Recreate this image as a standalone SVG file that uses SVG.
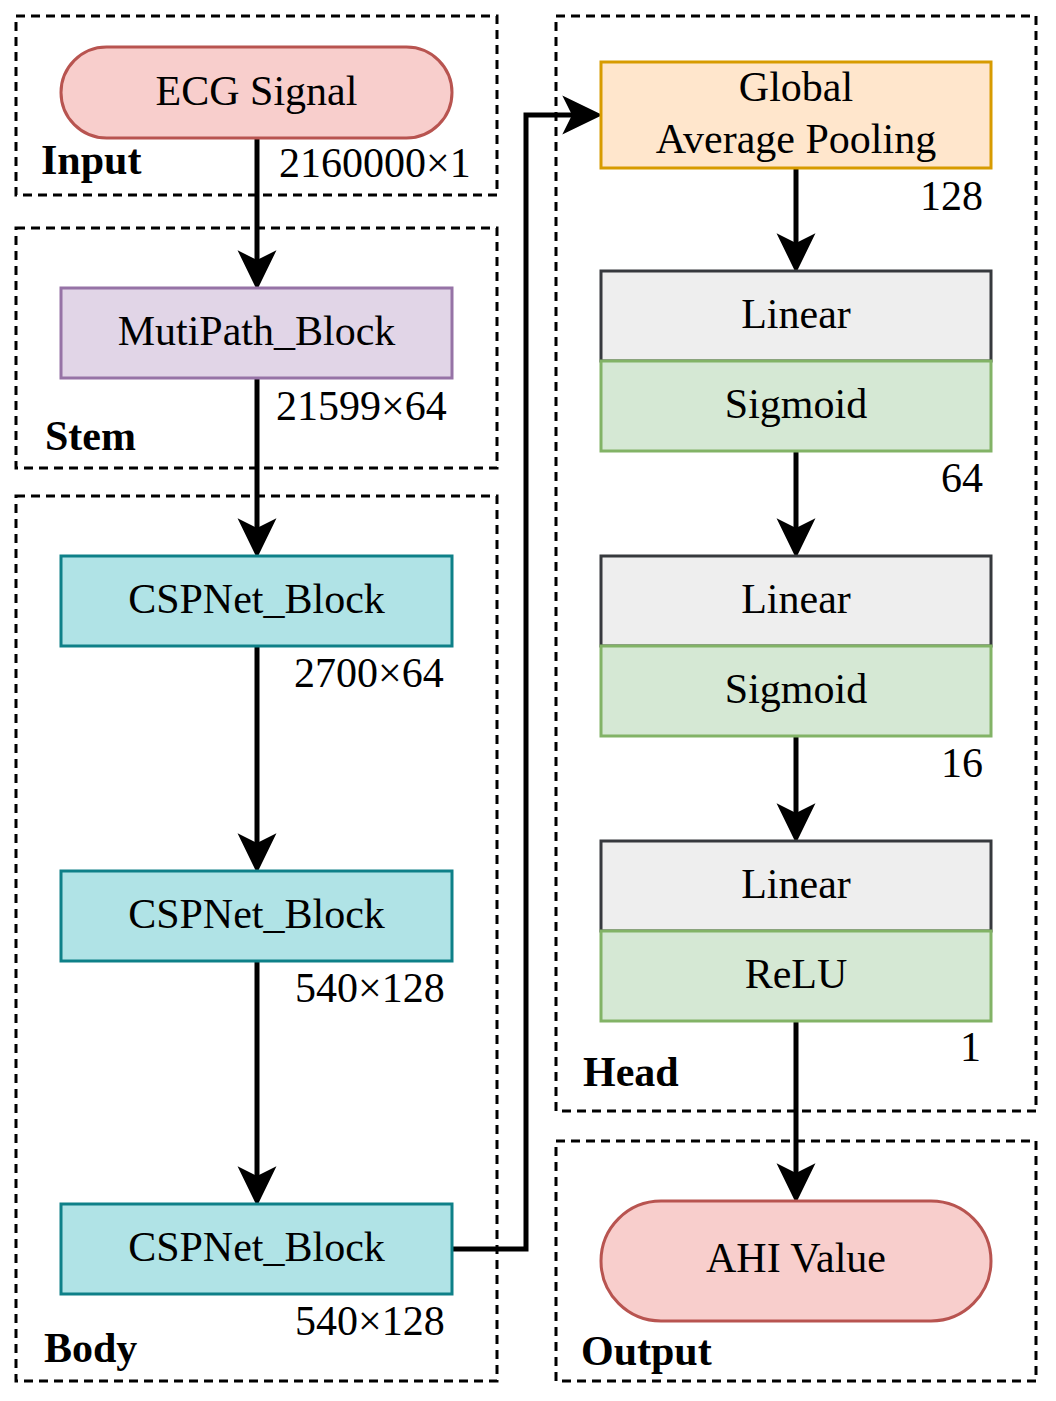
<svg xmlns="http://www.w3.org/2000/svg" width="1056" height="1401" viewBox="0 0 1056 1401">
<style>
.grp{fill:none;stroke:#000;stroke-width:3;stroke-dasharray:9 6}
.t{font-family:"Liberation Serif","Times New Roman",serif;font-size:42px;fill:#000}
.c{text-anchor:middle}
.e{text-anchor:end}
.b{font-weight:bold}
.con{fill:none;stroke:#000;stroke-width:5}
.term{fill:#f8cecc;stroke:#b85450;stroke-width:3}
.purple{fill:#e1d5e7;stroke:#9673a6;stroke-width:3}
.cyan{fill:#b0e3e6;stroke:#0e8088;stroke-width:3}
.orange{fill:#ffe6cc;stroke:#d79b00;stroke-width:3}
.gray{fill:#eeeeee;stroke:#36393d;stroke-width:3}
.green{fill:#d5e8d4;stroke:#82b366;stroke-width:3}
</style>
<defs>
<marker id="arr" markerUnits="userSpaceOnUse" markerWidth="40" markerHeight="40" viewBox="0 0 37 36" refX="9" refY="18" orient="auto">
<path d="M0,0 L37,18 L0,36 L9,18 Z" fill="#000"/>
</marker>
</defs>
<rect width="1056" height="1401" fill="#fff"/>
<g id="groups">
<g id="grp-input"><rect class="grp" x="16" y="16" width="481" height="179"/><text class="t b" x="41" y="174">Input</text></g>
<g id="grp-stem"><rect class="grp" x="16" y="228" width="481" height="240"/><text class="t b" x="45" y="450">Stem</text></g>
<g id="grp-body"><rect class="grp" x="16" y="496" width="481" height="885"/><text class="t b" x="44" y="1362">Body</text></g>
<g id="grp-head"><rect class="grp" x="556" y="16" width="480" height="1095"/><text class="t b" x="583" y="1086">Head</text></g>
<g id="grp-output"><rect class="grp" x="556" y="1141" width="480" height="240"/><text class="t b" x="581" y="1365">Output</text></g>
</g>
<g id="connectors">
<path class="con" d="M257,138 V260" marker-end="url(#arr)"/>
<path class="con" d="M257,378 V528" marker-end="url(#arr)"/>
<path class="con" d="M257,646 V843" marker-end="url(#arr)"/>
<path class="con" d="M257,961 V1176" marker-end="url(#arr)"/>
<path class="con" d="M452,1249 H526 V115 H572" marker-end="url(#arr)"/>
<path class="con" d="M796,168 V243" marker-end="url(#arr)"/>
<path class="con" d="M796,451 V528" marker-end="url(#arr)"/>
<path class="con" d="M796,736 V813" marker-end="url(#arr)"/>
<path class="con" d="M796,1021 V1173" marker-end="url(#arr)"/>
</g>
<g id="labels">
<text class="t" x="279" y="177">2160000×1</text>
<text class="t" x="276" y="420">21599×64</text>
<text class="t" x="294" y="687">2700×64</text>
<text class="t" x="295" y="1002">540×128</text>
<text class="t" x="295" y="1335">540×128</text>
<text class="t e" x="983" y="210">128</text>
<text class="t e" x="983" y="492">64</text>
<text class="t e" x="983" y="777">16</text>
<text class="t e" x="981" y="1061">1</text>
</g>
<g id="ecg"><rect class="term" x="61" y="47" width="391" height="91" rx="45.5"/><text class="t c" x="256.5" y="105">ECG Signal</text></g>
<g id="mutipath"><rect class="purple" x="61" y="288" width="391" height="90"/><text class="t c" x="256.5" y="345">MutiPath_Block</text></g>
<g id="csp1"><rect class="cyan" x="61" y="556" width="391" height="90"/><text class="t c" x="256.5" y="613">CSPNet_Block</text></g>
<g id="csp2"><rect class="cyan" x="61" y="871" width="391" height="90"/><text class="t c" x="256.5" y="928">CSPNet_Block</text></g>
<g id="csp3"><rect class="cyan" x="61" y="1204" width="391" height="90"/><text class="t c" x="256.5" y="1261">CSPNet_Block</text></g>
<g id="gap"><rect class="orange" x="601" y="62" width="390" height="106"/><text class="t c" x="796" y="101">Global</text><text class="t c" x="796" y="153">Average Pooling</text></g>
<g id="linear1"><rect class="gray" x="601" y="271" width="390" height="90"/><text class="t c" x="796" y="328">Linear</text></g>
<g id="sigmoid1"><rect class="green" x="601" y="361" width="390" height="90"/><text class="t c" x="796" y="418">Sigmoid</text></g>
<g id="linear2"><rect class="gray" x="601" y="556" width="390" height="90"/><text class="t c" x="796" y="613">Linear</text></g>
<g id="sigmoid2"><rect class="green" x="601" y="646" width="390" height="90"/><text class="t c" x="796" y="703">Sigmoid</text></g>
<g id="linear3"><rect class="gray" x="601" y="841" width="390" height="90"/><text class="t c" x="796" y="898">Linear</text></g>
<g id="relu"><rect class="green" x="601" y="931" width="390" height="90"/><text class="t c" x="796" y="988">ReLU</text></g>
<g id="ahi"><rect class="term" x="601" y="1201" width="390" height="120" rx="60"/><text class="t c" x="796" y="1272">AHI Value</text></g>
</svg>
